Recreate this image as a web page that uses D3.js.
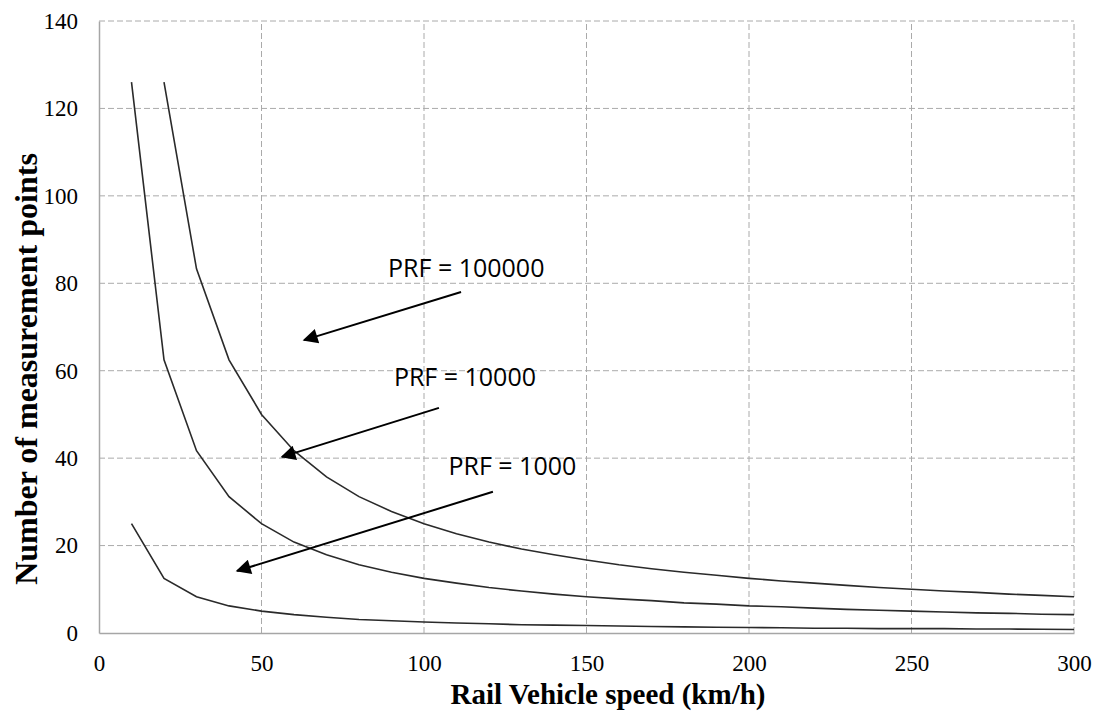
<!DOCTYPE html>
<html>
<head>
<meta charset="utf-8">
<script src="https://cdn.jsdelivr.net/npm/d3@7"></script>
<style>
  body { margin: 0; background: #fff; }
  svg { display: block; }
  .tick text { font-family: "Liberation Serif", "Times New Roman", serif; font-size: 23px; fill: #000; }
  .title { font-family: "Liberation Serif", "Times New Roman", serif; font-weight: bold; font-size: 29px; fill: #000; }
  .note { font-family: "Open Sans", "Noto Sans", sans-serif; font-size: 25px; fill: #000; }
</style>
</head>
<body>
<div id="chart"></div>
<script>
// speeds in km/h
let speeds = [10, 20, 30, 40, 50, 60, 70, 80, 90, 100, 110, 120, 130, 140, 150,
  160, 170, 180, 190, 200, 210, 220, 230, 240, 250, 260, 270, 280, 290, 300];
let prf1000 = [25, 12.5, 8.3, 6.2, 5, 4.2, 3.6, 3.1, 2.8, 2.5, 2.3, 2.1, 1.9, 1.8, 1.7,
  1.6, 1.5, 1.4, 1.3, 1.25, 1.2, 1.1, 1.1, 1.0, 1.0, 1.0, 0.9, 0.9, 0.85, 0.8];
let prf10000 = [126, 62.5, 41.7, 31.2, 25, 20.8, 17.9, 15.6, 13.9, 12.5, 11.4, 10.4, 9.6, 8.9, 8.3,
  7.8, 7.4, 6.9, 6.6, 6.2, 6.0, 5.7, 5.4, 5.2, 5.0, 4.8, 4.6, 4.5, 4.3, 4.2];
let prf100000 = [null, 126, 83.3, 62.5, 50, 41.7, 35.7, 31.2, 27.8, 25, 22.7, 20.8, 19.2, 17.9, 16.7,
  15.6, 14.7, 13.9, 13.2, 12.5, 11.9, 11.4, 10.9, 10.4, 10, 9.6, 9.3, 8.9, 8.6, 8.3];
let xTicks = [0, 50, 100, 150, 200, 250, 300];
let yTicks = [0, 20, 40, 60, 80, 100, 120, 140];
// annotations: label position and arrow [from, to] in data units
let notes = [
  { text: "PRF = 100000", x: 113, y: 81.4, from: [111.4, 78.0], to: [63.1, 67.0] },
  { text: "PRF = 10000", x: 112.6, y: 56.5, from: [104.6, 51.5], to: [56.3, 40.3] },
  { text: "PRF = 1000", x: 127.2, y: 36.1, from: [121.2, 32.3], to: [42.5, 14.2] }
];

let W = 1096, H = 714;
let margin = { left: 99, right: 22, top: 21, bottom: 81 };

let svg = d3.select('#chart').append('svg')
  .attr('width', W)
  .attr('height', H);

let x = d3.scaleLinear().domain([0, 300]).range([margin.left, W - margin.right]);
let y = d3.scaleLinear().domain([0, 140]).range([H - margin.bottom, margin.top]);

svg.append('defs').append('marker')
  .attr('id', 'head')
  .attr('viewBox', '0 0 10 10')
  .attr('refX', 9).attr('refY', 5)
  .attr('markerWidth', 10).attr('markerHeight', 7.5)
  .attr('markerUnits', 'strokeWidth')
  .attr('orient', 'auto')
  .append('path')
  .attr('d', 'M0,0 L10,5 L0,10 Z')
  .attr('fill', '#000');

// grid
let grid = svg.append('g');
grid.selectAll('.gx').data(xTicks.slice(1)).enter().append('line')
  .attr('x1', d => x(d)).attr('x2', d => x(d))
  .attr('y1', y(0)).attr('y2', y(140))
  .attr('stroke', '#aaa').attr('stroke-width', 1).attr('stroke-dasharray', '6,3');
grid.selectAll('.gy').data(yTicks.slice(1)).enter().append('line')
  .attr('x1', x(0)).attr('x2', x(300))
  .attr('y1', d => y(d)).attr('y2', d => y(d))
  .attr('stroke', '#aaa').attr('stroke-width', 1).attr('stroke-dasharray', '6,3');

// axes
let xAxis = svg.append('g')
  .attr('transform', `translate(0,${y(0)})`)
  .call(d3.axisBottom(x).tickValues(xTicks).tickSize(0).tickPadding(22));
xAxis.select('.domain').attr('stroke', '#a6a6a6').attr('stroke-width', 1.5);

let yAxis = svg.append('g')
  .attr('transform', `translate(${x(0)},0)`)
  .call(d3.axisLeft(y).tickValues(yTicks).tickSize(0).tickPadding(21));
yAxis.select('.domain').attr('stroke', '#a6a6a6').attr('stroke-width', 1.5);

// curves
let line = d3.line()
  .defined(d => d[1] != null)
  .x(d => x(d[0]))
  .y(d => y(d[1]));

[prf1000, prf10000, prf100000].forEach(function (vals) {
  svg.append('path')
    .datum(speeds.map((s, i) => [s, vals[i]]))
    .attr('d', line)
    .attr('fill', 'none')
    .attr('stroke', '#2a2a2a')
    .attr('stroke-width', 1.6);
});

// annotations
notes.forEach(function (n) {
  svg.append('text')
    .attr('class', 'note')
    .attr('x', x(n.x)).attr('y', y(n.y))
    .attr('text-anchor', 'middle')
    .text(n.text);
  svg.append('line')
    .attr('x1', x(n.from[0])).attr('y1', y(n.from[1]))
    .attr('x2', x(n.to[0])).attr('y2', y(n.to[1]))
    .attr('stroke', '#000').attr('stroke-width', 2)
    .attr('marker-end', 'url(#head)');
});

// titles
svg.append('text')
  .attr('class', 'title')
  .attr('x', 608)
  .attr('y', 704)
  .attr('text-anchor', 'middle')
  .text('Rail Vehicle speed (km/h)');

svg.append('text')
  .attr('class', 'title')
  .style('font-size', '32px')
  .attr('transform', `translate(37,369) rotate(-90)`)
  .attr('text-anchor', 'middle')
  .text('Number of measurement points');
</script>
</body>
</html>
